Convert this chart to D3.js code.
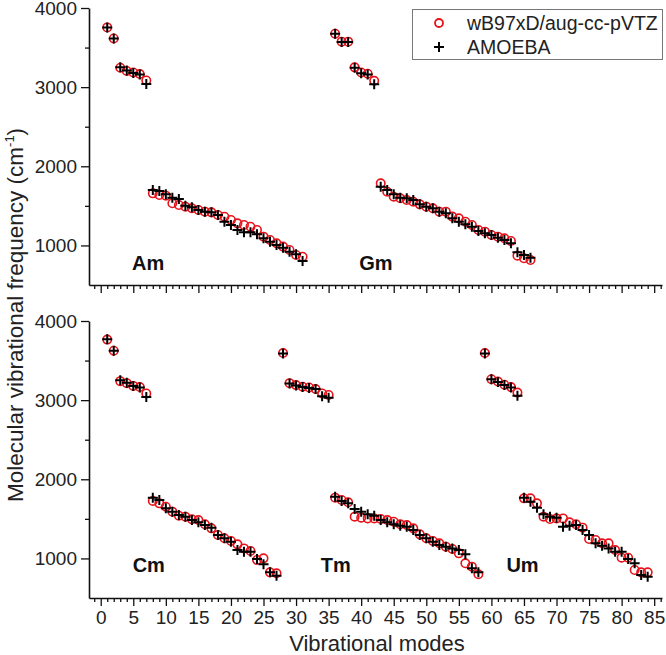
<!DOCTYPE html>
<html><head><meta charset="utf-8">
<script src="https://cdn.jsdelivr.net/npm/d3@7/dist/d3.min.js"></script>
<style>
body{margin:0;background:#fff;}
svg{display:block;font-family:"Liberation Sans",Arial,sans-serif;}
</style></head><body>
<svg id="chart" width="666" height="655"></svg>
<script>
// ---- data ----
const topModes = [1,2,3,4,5,6,7,8,9,10,11,12,13,14,15,16,17,18,19,20,21,22,23,24,25,26,27,28,29,30,31,
  36,37,38,39,40,41,42,43,44,45,46,47,48,49,50,51,52,53,54,55,56,57,58,59,60,61,62,63,64,65,66];
const topDFT = [3755,3615,3245,3205,3185,3165,3085,
  1658,1637,1629,1532,1511,1490,1469,1448,1427,1418,1385,1363,1321,1279,1258,1237,1195,1111,1069,1027,985,942,879,858,
  3675,3575,3575,3250,3185,3170,3080,
  1785,1679,1616,1595,1574,1553,1519,1490,1469,1427,1427,1364,1342,1300,1258,1195,1174,1132,1111,1090,1056,871,837,816];
const topAMOEBA = [3755,3615,3250,3210,3180,3160,3040,
  1700,1688,1646,1604,1587,1502,1481,1448,1427,1418,1385,1300,1258,1195,1166,1166,1140,1090,1048,1006,972,921,888,803,
  3675,3570,3570,3245,3175,3160,3035,
  1743,1700,1646,1604,1595,1574,1519,1490,1469,1427,1406,1342,1300,1267,1237,1182,1153,1132,1098,1069,1027,913,879,845];

const bottomModes = [1,2,3,4,5,6,7,8,9,10,11,12,13,14,15,16,17,18,19,20,21,22,23,24,25,26,27,
  28,29,30,31,32,33,34,35,36,37,38,39,40,41,42,43,44,45,46,47,48,49,50,51,52,53,54,55,56,57,58,
  59,60,61,62,63,64,65,66,67,68,69,70,71,72,73,74,75,76,77,78,79,80,81,82,83,84];
const bottomDFT = [3765,3625,3240,3215,3180,3165,3085,
  1726,1696,1654,1591,1540,1528,1494,1485,1431,1380,1296,1254,1220,1178,1127,1094,980,1001,824,812,
  3595,3215,3190,3170,3160,3140,3085,3065,
  1768,1738,1709,1528,1515,1506,1506,1498,1485,1464,1431,1422,1380,1304,1254,1220,1191,1149,1119,1064,938,896,799,
  3595,3265,3235,3195,3165,3095,
  1759,1759,1696,1528,1498,1506,1506,1456,1431,1389,1245,1233,1191,1191,1106,1009,1009,854,824,824];
const bottomAMOEBA = [3770,3625,3250,3220,3180,3160,3040,
  1768,1738,1633,1591,1549,1528,1485,1456,1422,1389,1296,1254,1212,1106,1085,1085,993,925,824,782,
  3590,3210,3185,3165,3155,3140,3050,3030,
  1780,1726,1696,1624,1591,1557,1540,1485,1456,1431,1414,1401,1359,1296,1254,1212,1170,1149,1127,1106,1052,875,824,
  3590,3265,3230,3190,3160,3055,
  1768,1717,1641,1557,1528,1515,1401,1414,1422,1359,1296,1191,1161,1127,1085,1085,993,938,790,769];

const topLabels = ["Am","Gm"];
const topLabelModes = [4.8, 39.7];
const bottomLabels = ["Cm","Tm","Um"];
const bottomLabelModes = [4.9, 33.8, 62.3];
const xTicks = [0,5,10,15,20,25,30,35,40,45,50,55,60,65,70,75,80,85];
const yTicks = [1000,2000,3000,4000];
const seriesNames = ["wB97xD/aug-cc-pVTZ","AMOEBA"];

// ---- drawing ----
const svg = d3.select("#chart");
const red = "#e8121a";
const x = d3.scaleLinear().domain([-1.8, 86.2]).range([89, 662]);
const minorX = d3.range(-1, 87);
const minorY = [1500, 2500, 3500];

const panels = [
  {top: 8, bottom: 285, modes: topModes, dft: topDFT, amo: topAMOEBA, labels: topLabels, lm: topLabelModes, lv: 690, showX: false},
  {top: 321, bottom: 598, modes: bottomModes, dft: bottomDFT, amo: bottomAMOEBA, labels: bottomLabels, lm: bottomLabelModes, lv: 830, showX: true}
];

panels.forEach(p => {
  const y = d3.scaleLinear().domain([500, 4000]).range([p.bottom, p.top]);
  const g = svg.append("g");

  // minor ticks
  g.append("g").attr("transform", `translate(0,${p.bottom})`)
    .call(d3.axisBottom(x).tickValues(minorX.filter(v => v % 5 !== 0)).tickSize(4).tickFormat(""))
    .call(a => a.select(".domain").remove());
  g.append("g").attr("transform", `translate(89,0)`)
    .call(d3.axisLeft(y).tickValues(minorY).tickSize(4).tickFormat(""))
    .call(a => a.select(".domain").remove());

  // major axes
  g.append("g").attr("transform", `translate(0,${p.bottom})`)
    .call(d3.axisBottom(x).tickValues(xTicks).tickSize(8).tickSizeOuter(0).tickPadding(5)
      .tickFormat(p.showX ? d3.format("d") : ""));
  g.append("g").attr("transform", `translate(89,0)`)
    .call(d3.axisLeft(y).tickValues(yTicks).tickSize(8).tickSizeOuter(0).tickPadding(4)
      .tickFormat(d3.format("d")));
  g.selectAll(".tick line").attr("stroke", "#111").attr("stroke-width", 1.3);
  g.selectAll(".domain").attr("stroke", "#111").attr("stroke-width", 1.6);
  g.selectAll(".tick text").attr("font-size", 19).attr("fill", "#222")
    .attr("font-family", '"Liberation Sans",Arial,sans-serif');

  // circles
  g.append("g").selectAll("circle").data(p.modes.map((m, i) => [m, p.dft[i]]))
    .join("circle").attr("cx", d => x(d[0])).attr("cy", d => y(d[1])).attr("r", 4.2)
    .attr("fill", "none").attr("stroke", red).attr("stroke-width", 1.6);
  // plus
  g.append("g").selectAll("path").data(p.modes.map((m, i) => [m, p.amo[i]]))
    .join("path").attr("d", d => {
      const cx = x(d[0]), cy = y(d[1]), s = 5;
      return `M${cx - s},${cy}H${cx + s}M${cx},${cy - s}V${cy + s}`;
    }).attr("stroke", "#000").attr("stroke-width", 2).attr("fill", "none");

  // panel labels
  g.selectAll("text.plabel").data(p.labels).join("text").attr("class", "plabel")
    .attr("x", (d, i) => x(p.lm[i])).attr("y", y(p.lv))
    .attr("font-size", 20).attr("font-weight", "bold").attr("fill", "#111").text(d => d);
});

// axis titles
const yt = svg.append("text").attr("transform", "translate(23,315) rotate(-90)")
  .attr("text-anchor", "middle").attr("font-size", 22.5).attr("fill", "#222");
yt.append("tspan").text("Molecular vibrational frequency (cm");
yt.append("tspan").attr("font-size", 13).attr("dy", -9).text("-1");
yt.append("tspan").attr("dy", 9).text(")");
svg.append("text").attr("x", 377).attr("y", 651).attr("text-anchor", "middle")
  .attr("font-size", 22).attr("fill", "#222").text("Vibrational modes");

// legend
const lg = svg.append("g");
lg.append("rect").attr("x", 412.5).attr("y", 9.5).attr("width", 250).attr("height", 50)
  .attr("fill", "#fff").attr("stroke", "#777").attr("stroke-width", 1);
lg.append("circle").attr("cx", 439).attr("cy", 23).attr("r", 4).attr("fill", "none")
  .attr("stroke", red).attr("stroke-width", 1.8);
lg.append("path").attr("d", "M434,47H444M439,42V52").attr("stroke", "#000").attr("stroke-width", 2);
lg.selectAll("text").data(seriesNames).join("text")
  .attr("x", 467).attr("y", (d, i) => 30 + i * 24).attr("font-size", 19.5).attr("fill", "#222").text(d => d);
</script>
</body></html>
